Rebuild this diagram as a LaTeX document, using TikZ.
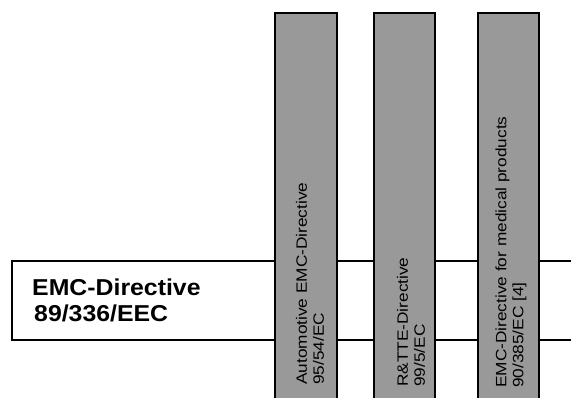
\documentclass[tikz,border=0pt]{standalone}
\usepackage{fontspec}
\setmainfont{Liberation Sans}
\newfontfamily\barfont[FakeStretch=1.15]{Liberation Sans}
\newfontfamily\boxfont[FakeStretch=1.08]{Liberation Sans}
\begin{document}
\begin{tikzpicture}[x=1pt,y=1pt,
  bandline/.style={line width=1.6pt, black},
  barshape/.style={line width=2.4pt, black, fill=black!40},
  bartext/.style={rotate=90, anchor=west, align=left, inner sep=0pt,
    font=\barfont\fontsize{15}{17}\selectfont},
  maintext/.style={anchor=north west, align=left, inner sep=0pt,
    font=\boxfont\bfseries\fontsize{23}{26}\selectfont}]
\useasboundingbox (0,0) rectangle (571,-398);
% band (main directive) drawn behind the bars
\coordinate (bTR) at (571,-261);
\coordinate (bTL) at (12,-261);
\coordinate (bBL) at (12,-340);
\coordinate (bBR) at (571,-340);
\draw[bandline] (bTR) -- (bTL) -- (bBL) -- (bBR);
\node[maintext] (main) at (32,-278.5) {EMC-Directive\\\hspace*{2pt}89/336/EEC};
% bars
\draw[barshape] (275,-399) -- (275,-13) -- (337,-13) -- (337,-399);
\draw[barshape] (374,-399) -- (374,-13) -- (435,-13) -- (435,-399);
\draw[barshape] (478,-399) -- (478,-13) -- (539,-13) -- (539,-399);
\node[bartext] (auto) at (310,-385) {Automotive EMC-Directive\\95/54/EC};
\node[bartext] (rtte) at (411,-387) {R\&TTE-Directive\\99/5/EC};
\node[bartext] (med) at (511,-388) {EMC-Directive for medical products\\90/385/EC [4]};
\end{tikzpicture}
\end{document}
